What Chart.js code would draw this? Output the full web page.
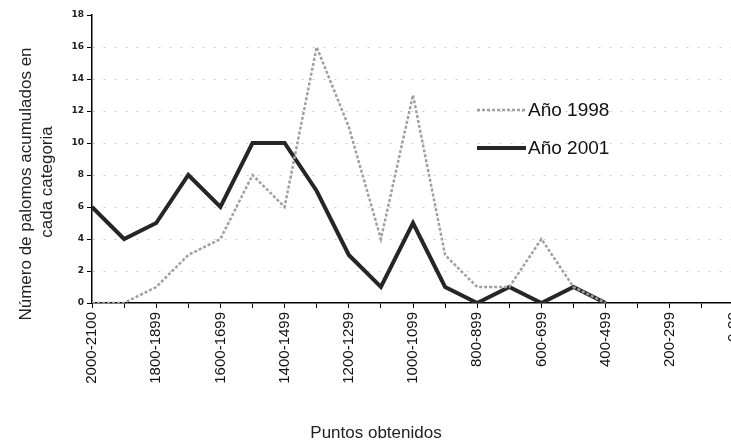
<!DOCTYPE html>
<html>
<head>
<meta charset="utf-8">
<script src="https://cdn.jsdelivr.net/npm/chart.js@4"></script>
<style>
  html, body { margin: 0; padding: 0; background: #fff; overflow: hidden; }
  #wrap { width: 760px; height: 442px; }
</style>
</head>
<body>
<div id="wrap"><canvas id="chart" width="760" height="442"></canvas></div>
<script>
// ====== datos ======
const categories = [
  "2000-2100", "1900-1999", "1800-1899", "1700-1799", "1600-1699",
  "1500-1599", "1400-1499", "1300-1399", "1200-1299", "1100-1199",
  "1000-1099", "900-999", "800-899", "700-799", "600-699",
  "500-599", "400-499", "300-399", "200-299", "100-199", "0-99",
];
const year1998 = [0, 0, 1, 3, 4, 8, 6, 16, 11, 4, 13, 3, 1, 1, 4, 1, 0, null, null, null, null];
const year2001 = [6, 4, 5, 8, 6, 10, 10, 7, 3, 1, 5, 1, 0, 1, 0, 1, 0, null, null, null, null];
const yTicks = [0, 2, 4, 6, 8, 10, 12, 14, 16, 18];
const seriesNames = ["Año 1998", "Año 2001"];
const yTitle = ["Número de palomos acumulados en", "cada categoria"];
const xTitle = "Puntos obtenidos";

const FONT = "'Liberation Sans', Arial, sans-serif";

// ====== estilos de serie ======
const style1998 = { color: "#a0a0a0", width: 2.5, dash: [3, 2] };
const style2001 = { color: "#262626", width: 4, dash: [] };

// ====== leyenda y títulos ======
const decorPlugin = {
  id: "decor",
  afterDraw(chart) {
    const ctx = chart.ctx;
    ctx.save();

    // leyenda
    [style1998, style2001].forEach((s, i) => {
      const y = 110 + i * 38;
      ctx.strokeStyle = s.color;
      ctx.lineWidth = s.width;
      ctx.setLineDash(s.dash);
      ctx.beginPath();
      ctx.moveTo(477, y);
      ctx.lineTo(526, y);
      ctx.stroke();
      ctx.setLineDash([]);
      ctx.fillStyle = "#111";
      ctx.font = "19px " + FONT;
      ctx.textAlign = "left";
      ctx.textBaseline = "middle";
      ctx.fillText(seriesNames[i], 528, y + 1);
    });

    // título eje Y
    ctx.fillStyle = "#222";
    ctx.font = "17px " + FONT;
    ctx.textAlign = "center";
    ctx.textBaseline = "middle";
    ctx.translate(26, 184);
    ctx.rotate(-Math.PI / 2);
    ctx.fillText(yTitle[0], 0, 0);
    ctx.fillText(yTitle[1], 2, 21);
    ctx.setTransform(1, 0, 0, 1, 0, 0);

    // título eje X
    ctx.fillText(xTitle, 376, 433);
    ctx.restore();
  },
};

// ====== gráfico ======
const ctx = document.getElementById("chart").getContext("2d");
new Chart(ctx, {
  type: "line",
  data: {
    labels: categories,
    datasets: [
      {
        label: seriesNames[0],
        data: year1998,
        borderColor: style1998.color,
        borderWidth: style1998.width,
        borderDash: style1998.dash,
        pointRadius: 0,
        tension: 0,
        spanGaps: false,
      },
      {
        label: seriesNames[1],
        data: year2001,
        borderColor: style2001.color,
        borderWidth: style2001.width,
        pointRadius: 0,
        tension: 0,
        spanGaps: false,
      },
    ],
  },
  options: {
    responsive: false,
    animation: false,
    devicePixelRatio: 1,
    layout: { padding: { left: 0, right: 26, top: 15, bottom: 0 } },
    plugins: {
      legend: { display: false },
      tooltip: { enabled: false },
    },
    scales: {
      x: {
        offset: false,
        afterFit: (scale) => { scale.height = 139; },
        grid: {
          drawOnChartArea: false,
          tickLength: 5,
          tickColor: "#000",
          tickWidth: 1,
        },
        border: { color: "#000", width: 1.5 },
        ticks: {
          autoSkip: false,
          minRotation: 90,
          maxRotation: 90,
          padding: 4,
          color: "#111",
          font: { family: FONT, size: 15 },
          callback: (v, i) => (i % 2 === 0 ? categories[i] : ""),
        },
      },
      y: {
        min: yTicks[0],
        max: yTicks[yTicks.length - 1],
        afterFit: (scale) => { scale.width = 92; },
        afterBuildTicks: (scale) => {
          scale.ticks = yTicks.map((v) => ({ value: v }));
        },
        grid: {
          color: (c) => (c.tick && (c.tick.value === 0 || c.tick.value === 18) ? "rgba(0,0,0,0)" : "rgba(0,0,0,0.2)"),
          lineWidth: 1,
          tickLength: 5,
          tickColor: "#000",
          tickBorderDash: [],
        },
        border: { color: "#000", width: 1.5, dash: [2, 9] },
        ticks: {
          padding: 3,
          color: "#222",
          font: { family: "'DejaVu Sans', sans-serif", size: 9, weight: "bold" },
        },
      },
    },
  },
  plugins: [decorPlugin],
});
</script>
</body>
</html>
